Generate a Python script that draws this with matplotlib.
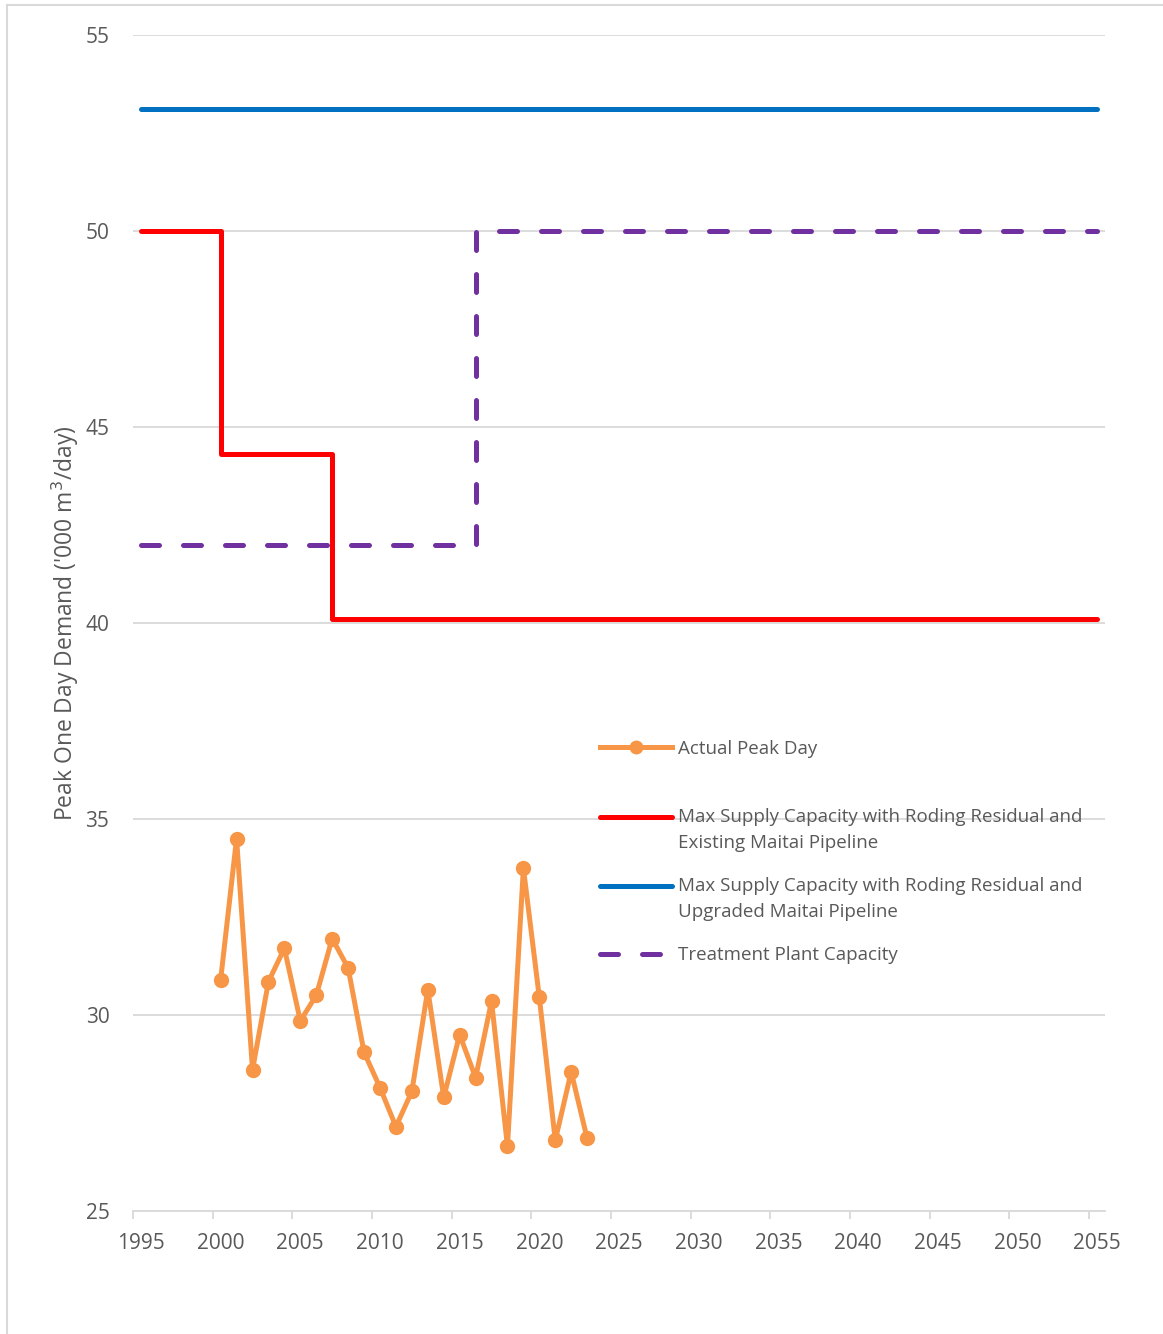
import matplotlib.pyplot as plt
from matplotlib.lines import Line2D

plt.rcParams['font.family'] = ['Open Sans', 'DejaVu Sans']

# observed annual peak day demand ('000 m3/day)
years = list(range(2000, 2024))
peak_day = [30.9, 34.5, 28.6, 30.85, 31.7, 29.85, 30.5, 31.95, 31.2, 29.05,
            28.15, 27.15, 28.05, 30.65, 27.9, 29.5, 28.4, 30.35, 26.65, 33.75,
            30.45, 26.8, 28.55, 26.85]

# capacity step series
existing_x = [1995, 2000, 2000, 2007, 2007, 2055]
existing_y = [50, 50, 44.3, 44.3, 40.1, 40.1]
upgraded_x = [1995, 2055]
upgraded_y = [53.1, 53.1]
plant_x = [1995, 2016, 2016, 2055]
plant_y = [42, 42, 50, 50]

orange = '#F79646'
red = '#FF0000'
blue = '#0070C0'
purple = '#7030A0'
grid_col = '#D9D9D9'
txt = '#595959'

fig = plt.figure(figsize=(11.63, 13.34), dpi=100)
ax = fig.add_axes([133 / 1163, 1 - 1211 / 1334, (1105 - 133) / 1163, (1211 - 35) / 1334])

ax.plot(upgraded_x, upgraded_y, color=blue, lw=3.6, solid_capstyle='round', zorder=3)
ax.plot(existing_x, existing_y, color=red, lw=3.6, solid_capstyle='round', zorder=3)
ax.plot(plant_x, plant_y, color=purple, lw=3.6, dashes=(3.6, 4.8),
        dash_capstyle='round', zorder=3)
ax.plot(years, peak_day, color=orange, lw=3.6, marker='o', markersize=10,
        solid_joinstyle='round', zorder=4)

ax.set_xlim(1994.5, 2055.5)
ax.set_ylim(25, 55)

# ticks between year categories, labels at year centres
ax.set_xticks([y - 0.5 for y in range(1995, 2056, 5)])
ax.set_xticklabels([])
ax.set_xticks(list(range(1995, 2056, 5)), minor=True)
ax.set_xticklabels([str(y) for y in range(1995, 2056, 5)], minor=True)
ax.tick_params(axis='x', which='major', length=6, width=1.3, color=grid_col, direction='out')
ax.tick_params(axis='x', which='minor', length=0, pad=16, labelsize=15, labelcolor=txt)

ax.set_yticks(range(25, 56, 5))
ax.tick_params(axis='y', length=0, pad=17, labelsize=15, labelcolor=txt)
ax.yaxis.grid(True, color=grid_col, lw=1.3)
ax.set_axisbelow(True)

for s in ['top', 'right', 'left']:
    ax.spines[s].set_visible(False)
ax.spines['bottom'].set_color(grid_col)
ax.spines['bottom'].set_linewidth(1.3)

ax.set_ylabel("Peak One Day Demand ('000 m$^3$/day)", fontsize=16.5, color=txt, labelpad=3)

# legend in two blocks to keep the wider gap under the first entry
lx = (600 - 133) / 972
h1 = [Line2D([], [], color=orange, lw=3.6, marker='o', markersize=9)]
leg1 = ax.legend(h1, ['Actual Peak Day'], loc='upper left',
                 bbox_to_anchor=(lx, 1 - (740 - 35) / 1176),
                 frameon=False, fontsize=13.5, labelcolor=txt, handlelength=3.84,
                 handletextpad=0.32, borderpad=0, borderaxespad=0)
ax.add_artist(leg1)
h2 = [Line2D([], [], color=red, lw=3.6, solid_capstyle='round'),
      Line2D([], [], color=blue, lw=3.6, solid_capstyle='round'),
      Line2D([], [], color=purple, lw=3.6, dashes=(3.6, 4.8), dash_capstyle='round')]
labels2 = ['Max Supply Capacity with Roding Residual and\nExisting Maitai Pipeline',
           'Max Supply Capacity with Roding Residual and\nUpgraded Maitai Pipeline',
           'Treatment Plant Capacity']
leg2 = ax.legend(h2, labels2, loc='upper left',
                 bbox_to_anchor=(lx, 1 - (808 - 35) / 1176),
                 frameon=False, fontsize=13.5, labelcolor=txt, handlelength=3.84,
                 handletextpad=0.32, labelspacing=1.34, borderpad=0, borderaxespad=0)
for t in leg2.get_texts():
    t.set_linespacing(1.58)
# put the two-line entries' handles level with their first line
for hl in leg2.legend_handles[:2]:
    hl.set_ydata([y + 9.9 for y in hl.get_ydata()])

# chart frame (top and left edges)
fig.add_artist(Line2D([7 / 1163, 7 / 1163], [0, 1 - 5 / 1334], color=grid_col, lw=1.5))
fig.add_artist(Line2D([7 / 1163, 1], [1 - 5 / 1334, 1 - 5 / 1334], color=grid_col, lw=1.5))

fig.savefig('out.png', dpi=100, facecolor='white')
